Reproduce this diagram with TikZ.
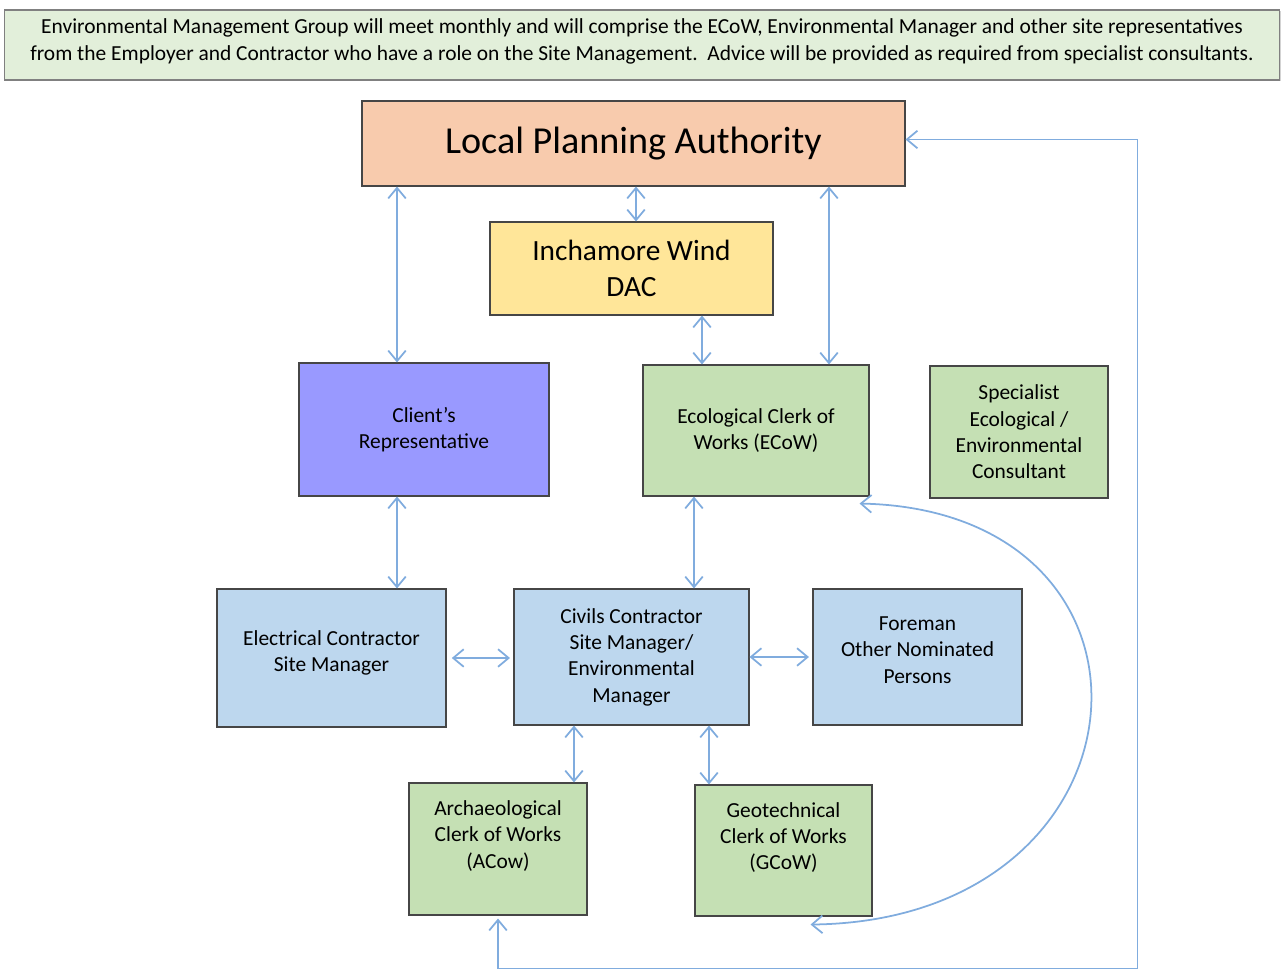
\documentclass[tikz,border=0pt]{standalone}
\usepackage{fontspec}
\setmainfont{Carlito}
\usetikzlibrary{positioning,arrows.meta,shadows}

\definecolor{linkblue}{RGB}{128,172,222}
\definecolor{boxline}{RGB}{70,70,70}
\definecolor{notegreen}{RGB}{226,239,218}
\definecolor{lpapeach}{RGB}{248,203,173}
\definecolor{dacyellow}{RGB}{255,230,153}
\definecolor{clientlilac}{RGB}{153,153,255}
\definecolor{cowgreen}{RGB}{197,224,180}
\definecolor{sitemgrblue}{RGB}{189,215,238}

\begin{document}
\begin{tikzpicture}[x=0.02cm,y=-0.02cm,
  box/.style={draw=boxline,line width=0.6pt,align=center,inner sep=2pt,
    font=\fontsize{12.2}{15}\selectfont,
    drop shadow={shadow xshift=0.8pt,shadow yshift=-0.8pt,opacity=0.35}},
  boxsize/.style 2 args={minimum width=#1*0.02cm,minimum height=#2*0.02cm},
  link/.style={<->,>={Straight Barb[length=6pt,width=10pt]},draw=linkblue,line width=1pt}]
\useasboundingbox (0,0) rectangle (1282,971);

% header note
\node[box,fill=notegreen,draw=gray,boxsize={1275}{70},font=\fontsize{12.2}{15.5}\selectfont] (note) at (642,45)
  {Environmental Management Group will meet monthly and will comprise the ECoW, Environmental Manager and other site representatives\\
   from the Employer and Contractor who have a role on the Site Management.\ \ Advice will be provided as required from specialist consultants.\\[-9pt]\mbox{}};

% top level
\node[box,fill=lpapeach,boxsize={543}{85},font=\fontsize{21.7}{26}\selectfont] (lpa) at (633.5,143.5) {Local Planning Authority};
\node[box,fill=dacyellow,boxsize={283}{93},font=\fontsize{16.7}{20.5}\selectfont] (dac) at (631.5,268.5) {Inchamore Wind\\DAC};

% second row
\node[box,fill=clientlilac,boxsize={250}{133}] (client) at (424,429.5) {Client’s\\Representative};
\node[box,fill=cowgreen,boxsize={226}{131}] (ecow) at (756,430.5) {Ecological Clerk of\\Works (ECoW)};
\node[box,fill=cowgreen,boxsize={178}{132}] (spec) at (1019,432) {Specialist\\Ecological /\\Environmental\\Consultant};

% site managers
\node[box,fill=sitemgrblue,boxsize={229}{138}] (elec) at (331.5,658) {Electrical Contractor\\Site Manager\\[-7pt]\mbox{}};
\node[box,fill=sitemgrblue,boxsize={235}{136}] (civils) at (631.5,657) {Civils Contractor\\Site Manager/\\Environmental\\Manager};
\node[box,fill=sitemgrblue,boxsize={209}{136}] (fore) at (917.5,657) {Foreman\\Other Nominated\\Persons\\[-7pt]\mbox{}};

% clerks of works
\node[box,fill=cowgreen,boxsize={178}{132}] (arch) at (498,849) {Archaeological\\Clerk of Works\\(ACow)\\[-3pt]\strut};
\node[box,fill=cowgreen,boxsize={177}{131}] (geo) at (783.5,850.5) {Geotechnical\\Clerk of Works\\(GCoW)\\[-3pt]\strut};

% links
\draw[link] ([shift={(-27,0)}]client.north) -- ([shift={(-27,0)}]client.north |- lpa.south);
\draw[link] ([shift={(4.5,0)}]dac.north) -- ([shift={(4.5,0)}]dac.north |- lpa.south);
\draw[link] ([shift={(73,0)}]ecow.north) -- ([shift={(73,0)}]ecow.north |- lpa.south);
\draw[link] ([shift={(-54,0)}]ecow.north) -- ([shift={(-54,0)}]ecow.north |- dac.south);
\draw[link] ([shift={(-27,0)}]client.south) -- ([shift={(-27,0)}]client.south |- elec.north);
\draw[link] ([shift={(62.5,0)}]civils.north) -- ([shift={(62.5,0)}]civils.north |- ecow.south);
\draw[link,shorten <=3pt,shorten >=2pt] (elec.east) -- (elec.east -| civils.west);
\draw[link,shorten >=2pt] (civils.east) -- (civils.east -| fore.west);
\draw[link] ([shift={(-57.5,0)}]civils.south) -- ([shift={(-57.5,0)}]civils.south |- arch.north);
\draw[link] ([shift={(77.5,0)}]civils.south) -- ([shift={(77.5,0)}]civils.south |- geo.north);
\draw[link] ([shift={(-10,7)}]ecow.south east) .. controls +(330,7) and +(350,-4) .. ([shift={(-62,8)}]geo.south east);
\draw[link] ([shift={(0,3)}]arch.south) -- ++(0,50) -| ([shift={(232,-4)}]lpa.east) -- ([shift={(0,-4)}]lpa.east);
\end{tikzpicture}
\end{document}
